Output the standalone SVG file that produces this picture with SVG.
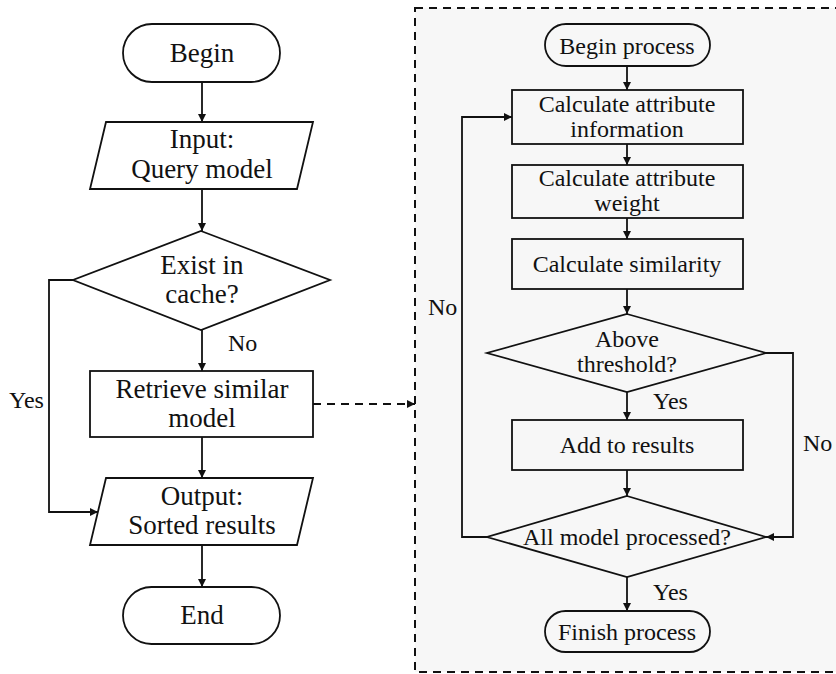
<svg xmlns="http://www.w3.org/2000/svg" width="836" height="674" viewBox="0 0 836 674">
<style>
.n{fill:#fff;stroke:#111;stroke-width:1.8}
.r{fill:none;stroke:#111;stroke-width:1.8}
.c{fill:none;stroke:#111;stroke-width:1.8}
text{font-family:'Liberation Serif','Times New Roman',serif;fill:#111}
.t{font-size:27px;text-anchor:middle}
.s{font-size:24px;text-anchor:middle}
.l{font-size:24px}
</style>
<defs>
<marker id="a" viewBox="0 0 10 10" refX="10" refY="5" markerWidth="9" markerHeight="8" orient="auto" markerUnits="userSpaceOnUse">
<path d="M0,0 L10,5 L0,10 z" fill="#111"/>
</marker>
</defs>
<rect width="836" height="674" fill="#fff"/>
<rect id="panel" x="415" y="8" width="430" height="664" fill="#f7f7f7" stroke="#111" stroke-width="2" stroke-dasharray="8,6"/>

<g id="begin"><rect class="n" x="123" y="24" width="157" height="58" rx="29"/><text class="t" x="202" y="62">Begin</text></g>
<g id="input"><polygon class="n" points="106,122 313,122 297,189 90,189"/><text class="t" x="202" y="148">Input:</text><text class="t" x="202" y="178">Query model</text></g>
<g id="cache"><polygon class="n" points="201,231 330,280 201,330 73,280"/><text class="t" x="202" y="274">Exist in</text><text class="t" x="202" y="303">cache?</text></g>
<g id="retrieve"><rect class="n" x="90" y="371" width="223" height="66"/><text class="t" x="202" y="398">Retrieve similar</text><text class="t" x="202" y="427">model</text></g>
<g id="output"><polygon class="n" points="106,478 313,478 297,545 90,545"/><text class="t" x="202" y="505">Output:</text><text class="t" x="202" y="534">Sorted results</text></g>
<g id="end"><rect class="n" x="123" y="587" width="157" height="57" rx="28.5"/><text class="t" x="202" y="624">End</text></g>

<g id="bproc"><rect class="r" x="545" y="24" width="165" height="42" rx="21"/><text class="s" x="627" y="54">Begin process</text></g>
<g id="cinfo"><rect class="r" x="512" y="90" width="231" height="54"/><text class="s" x="627" y="112">Calculate attribute</text><text class="s" x="627" y="137">information</text></g>
<g id="cweight"><rect class="r" x="512" y="165" width="231" height="53"/><text class="s" x="627" y="186">Calculate attribute</text><text class="s" x="627" y="211">weight</text></g>
<g id="csim"><rect class="r" x="512" y="239" width="231" height="50"/><text class="s" x="627" y="272">Calculate similarity</text></g>
<g id="thresh"><polygon class="r" points="627,314 766,353 627,392 487,353"/><text class="s" x="627" y="347">Above</text><text class="s" x="627" y="372">threshold?</text></g>
<g id="add"><rect class="r" x="512" y="420" width="231" height="50"/><text class="s" x="627" y="453">Add to results</text></g>
<g id="allm"><polygon class="r" points="627,496 766,537 627,577 487,537"/><text class="s" x="627" y="545">All model processed?</text></g>
<g id="finish"><rect class="r" x="545" y="611" width="165" height="41" rx="20.5"/><text class="s" x="627" y="640">Finish process</text></g>

<g id="connectors">
<line class="c" x1="202" y1="82" x2="202" y2="122" marker-end="url(#a)"/>
<line class="c" x1="202" y1="189" x2="202" y2="231" marker-end="url(#a)"/>
<line class="c" x1="202" y1="330" x2="202" y2="371" marker-end="url(#a)"/>
<line class="c" x1="202" y1="437" x2="202" y2="478" marker-end="url(#a)"/>
<line class="c" x1="202" y1="545" x2="202" y2="587" marker-end="url(#a)"/>
<polyline class="c" points="73,280 49,280 49,512 98,512" marker-end="url(#a)"/>
<line class="c" x1="313" y1="404" x2="415" y2="404" stroke-dasharray="8,6" stroke-width="2" marker-end="url(#a)"/>
<line class="c" x1="627" y1="66" x2="627" y2="90" marker-end="url(#a)"/>
<line class="c" x1="627" y1="144" x2="627" y2="165" marker-end="url(#a)"/>
<line class="c" x1="627" y1="218" x2="627" y2="239" marker-end="url(#a)"/>
<line class="c" x1="627" y1="289" x2="627" y2="314" marker-end="url(#a)"/>
<line class="c" x1="627" y1="392" x2="627" y2="420" marker-end="url(#a)"/>
<line class="c" x1="627" y1="470" x2="627" y2="496" marker-end="url(#a)"/>
<line class="c" x1="627" y1="577" x2="627" y2="611" marker-end="url(#a)"/>
<polyline class="c" points="487,537 462,537 462,117 512,117" marker-end="url(#a)"/>
<polyline class="c" points="766,353 793,353 793,537 766,537" marker-end="url(#a)"/>
<text class="l" x="9" y="408">Yes</text>
<text class="l" x="228" y="351">No</text>
<text class="l" x="428" y="315">No</text>
<text class="l" x="653" y="409">Yes</text>
<text class="l" x="803" y="451">No</text>
<text class="l" x="653" y="600">Yes</text>
</g>
</svg>
